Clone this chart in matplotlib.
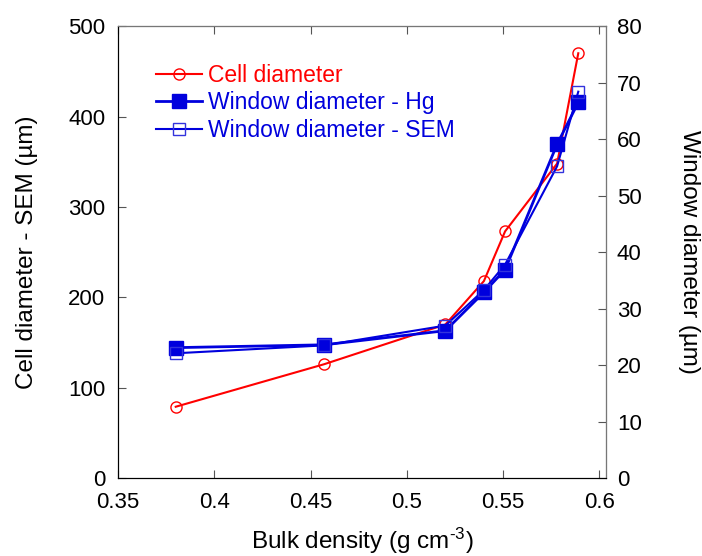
import matplotlib
matplotlib.use('Agg')
import matplotlib.pyplot as plt

plt.rcParams['font.family'] = ['Liberation Sans', 'DejaVu Sans']
plt.rcParams['mathtext.fontset'] = 'custom'
plt.rcParams['mathtext.rm'] = 'Liberation Sans'
plt.rcParams['mathtext.it'] = 'Liberation Sans'

# data
density = [0.38, 0.457, 0.52, 0.54, 0.551, 0.578, 0.589]
cell_diam = [79, 126, 170, 218, 273, 348, 470]
window_hg = [23.1, 23.6, 26.1, 32.9, 36.9, 59.1, 66.5]
window_sem = [22.1, 23.5, 27.0, 33.3, 37.8, 55.2, 68.4]

fig = plt.figure(figsize=(7.02, 5.56), dpi=100)
ax = fig.add_axes([0.168, 0.140, 0.695, 0.813])
ax2 = ax.twinx()

l1, = ax.plot(density, cell_diam, color='red', lw=1.5, marker='o', ms=8,
              mfc='none', mec='red', mew=1.0, label='Cell diameter')
l2, = ax2.plot(density, window_hg, color='#0000dd', lw=2, marker='s', ms=9.5,
               mfc='#0000dd', mec='#0000dd', label='Window diameter - Hg')
l3, = ax2.plot(density, window_sem, color='#0000dd', lw=1.5, marker='s', ms=8,
               mfc='none', mec='#3333dd', mew=1.0, label='Window diameter - SEM')

ax.set_xlim(0.35, 0.6033)
ax.set_ylim(0, 500)
ax2.set_ylim(0, 80)
ax.set_xticks([0.35, 0.4, 0.45, 0.5, 0.55, 0.6])
ax.set_xticklabels(['0.35', '0.4', '0.45', '0.5', '0.55', '0.6'])
ax.set_yticks(range(0, 501, 100))
ax2.set_yticks(range(0, 81, 10))

ax.tick_params(axis='x', direction='in', top=True, labelsize=16, length=6, pad=10,
               color='#555555')
ax.tick_params(axis='y', direction='in', labelsize=16, length=6, pad=9, color='#555555')
ax2.tick_params(axis='y', direction='in', labelsize=16, length=6, pad=8, color='#555555')

ax.set_xlabel('Bulk density (g cm$^{\\text{-}3}$)', fontsize=17.5, labelpad=9)
ax.set_ylabel('Cell diameter - SEM (µm)', fontsize=17.5, labelpad=22)
ax2.set_ylabel('Window diameter (µm)', fontsize=17.5, rotation=270, labelpad=42)

for s in ['right', 'top']:
    ax2.spines[s].set_color('#777777')

leg = ax.legend(handles=[l1, l2, l3], loc='upper left', bbox_to_anchor=(0.078, 0.917),
                frameon=False, fontsize=16.5, handlelength=2.0, handletextpad=0.25,
                labelspacing=0.2, borderaxespad=0, borderpad=0)
for t, c in zip(leg.get_texts(), ['red', '#0000dd', '#0000dd']):
    t.set_color(c)

fig.savefig('out.png', dpi=100)
